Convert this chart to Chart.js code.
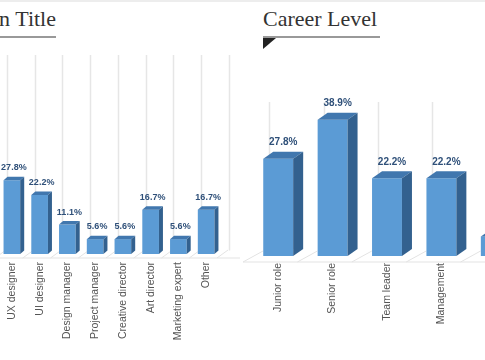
<!DOCTYPE html>
<html>
<head>
<meta charset="utf-8">
<script src="https://cdn.jsdelivr.net/npm/chart.js@4"></script>
<style>
  html, body { margin: 0; padding: 0; background: #fff; }
  body { width: 485px; height: 360px; position: relative; overflow: hidden; }
  .topline { position: absolute; left: 0; top: 0; width: 485px; height: 2px; background: #ededed; }
  .title { position: absolute; top: 6px; font-family: 'Liberation Serif', 'Times New Roman', serif;
           font-size: 22px; line-height: 26px; color: #333; white-space: nowrap; }
  .rule { position: absolute; top: 36px; height: 2px; background: #999; }
  .flag { position: absolute; top: 38px; width: 0; height: 0;
          border-top: 11px solid #222; border-right: 13px solid transparent; }
  .box { position: absolute; top: 0; }
</style>
</head>
<body>
<div class="topline"></div>

<div class="title" style="right:429px">Position Title</div>
<div class="rule" style="left:0;width:56px"></div>

<div class="title" style="left:263px">Career Level</div>
<div class="rule" style="left:263px;width:117px"></div>
<div class="flag" style="left:263px"></div>

<div class="box" style="left:-20px"><canvas id="jobChart" width="260" height="360"></canvas></div>
<div class="box" style="left:240px"><canvas id="levelChart" width="300" height="360"></canvas></div>

<script>
// Datos: puesto
const jobLabels = ['UX designer', 'UI designer', 'Design manager', 'Project manager',
  'Creative director', 'Art director', 'Marketing expert', 'Other'];
const jobValues = [27.8, 22.2, 11.1, 5.6, 5.6, 16.7, 5.6, 16.7];

// Datos: nivel de carrera
const levelLabels = ['Junior role', 'Senior role', 'Team leader', 'Management', 'Executive'];
const levelValues = [27.8, 38.9, 22.2, 22.2, 5.6];

Chart.defaults.font.family = "'Liberation Sans', Arial, sans-serif";
Chart.defaults.animation = false;

// Caras 3D, rejilla de fondo, piso y etiquetas de valor
function bars3d(o) {
  return {
    id: 'bars3d',
    beforeDatasetsDraw(chart) {
      const ctx = chart.ctx;
      const area = chart.chartArea;
      const xs = chart.scales.x;
      const n = chart.data.labels.length;
      const catW = xs.getPixelForValue(1) - xs.getPixelForValue(0);
      ctx.save();
      // piso
      ctx.strokeStyle = '#e3e3e3';
      ctx.lineWidth = 1;
      const fy = area.bottom + o.floorFront;
      ctx.beginPath();
      ctx.moveTo(area.left - o.floorDx, fy);
      ctx.lineTo(area.right + 20, fy);
      for (let i = 0; i <= n; i++) {
        const cl = xs.getPixelForValue(i) - catW / 2 - o.floorDx;
        ctx.moveTo(cl, fy);
        ctx.lineTo(cl + o.floorDepthX, fy - o.floorDepthY);
      }
      ctx.stroke();
      // líneas verticales del fondo
      ctx.strokeStyle = '#e6e6e6';
      ctx.lineWidth = 1.5;
      ctx.beginPath();
      for (let i = 0; i <= n; i++) {
        const x = Math.round(xs.getPixelForValue(i) - o.gridShift) + 0.5;
        ctx.moveTo(x, area.top);
        ctx.lineTo(x, area.bottom - o.dy);
      }
      ctx.stroke();
      ctx.restore();
    },
    afterDatasetsDraw(chart) {
      const ctx = chart.ctx;
      const meta = chart.getDatasetMeta(0);
      const vals = chart.data.datasets[0].data;
      ctx.save();
      meta.data.forEach((bar, i) => {
        const l = bar.x - bar.width / 2;
        const r = bar.x + bar.width / 2;
        const t = bar.y;
        const b = bar.base;
        // cara superior
        ctx.fillStyle = '#4177ae';
        ctx.beginPath();
        ctx.moveTo(l, t);
        ctx.lineTo(l + o.dx, t - o.dy);
        ctx.lineTo(r + o.dx, t - o.dy);
        ctx.lineTo(r, t);
        ctx.closePath();
        ctx.fill();
        // cara lateral
        ctx.fillStyle = '#33618f';
        ctx.beginPath();
        ctx.moveTo(r, t);
        ctx.lineTo(r + o.dx, t - o.dy);
        ctx.lineTo(r + o.dx, b - o.dy);
        ctx.lineTo(r, b);
        ctx.closePath();
        ctx.fill();
        // etiqueta de valor
        ctx.fillStyle = '#2f5079';
        ctx.font = o.labelFont;
        ctx.textAlign = 'center';
        ctx.textBaseline = 'middle';
        ctx.fillText(vals[i].toFixed(1) + '%', bar.x + o.dx / 2, t - o.dy - o.labelGap);
      });
      ctx.restore();
    }
  };
}

function makeChart(id, labels, values, cfg) {
  return new Chart(document.getElementById(id), {
    type: 'bar',
    data: {
      labels: labels,
      datasets: [{
        data: values,
        backgroundColor: '#5b9bd5',
        borderWidth: 0,
        barPercentage: cfg.barPct,
        categoryPercentage: 1
      }]
    },
    options: {
      responsive: false,
      layout: { padding: cfg.padding },
      plugins: { legend: { display: false }, tooltip: { enabled: false } },
      scales: {
        x: {
          grid: { display: false, drawTicks: false },
          border: { display: false },
          ticks: {
            color: '#555555',
            font: { size: 10.5 },
            minRotation: 90,
            maxRotation: 90,
            autoSkip: false,
            padding: cfg.tickPad
          },
          afterFit(s) { s.paddingLeft = 0; s.paddingRight = 0; s.height = cfg.axisH; }
        },
        y: { display: false, min: 0, max: cfg.yMax }
      }
    },
    plugins: [bars3d(cfg.d3)]
  });
}

makeChart('jobChart', jobLabels, jobValues, {
  barPct: 0.6,
  padding: { top: 55, left: 18, right: 20, bottom: 6 },
  tickPad: 8,
  axisH: 100,
  yMax: 75,
  d3: { dx: 4, dy: 3.5, labelFont: 'bold 9px "Liberation Sans", Arial', labelGap: 9,
        gridShift: 5, floorFront: 4, floorDx: 3, floorDepthX: 11, floorDepthY: 8 }
});

makeChart('levelChart', levelLabels, levelValues, {
  barPct: 0.55,
  padding: { top: 102, left: 11, right: 17, bottom: 6 },
  tickPad: 7,
  axisH: 98,
  yMax: 44,
  d3: { dx: 10, dy: 7, labelFont: 'bold 10px "Liberation Sans", Arial', labelGap: 9.5,
        gridShift: 9, floorFront: 6, floorDx: 8, floorDepthX: 20, floorDepthY: 11 }
});
</script>
</body>
</html>
